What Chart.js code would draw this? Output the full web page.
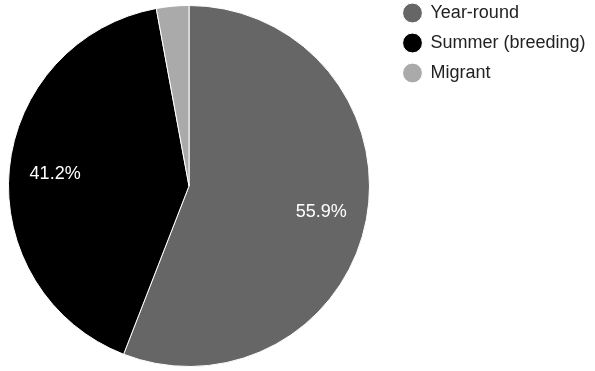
<!DOCTYPE html>
<html>
<head>
<meta charset="utf-8">
<script src="https://cdn.jsdelivr.net/npm/chart.js@4/dist/chart.umd.min.js"></script>
<style>
  html, body { margin: 0; padding: 0; background: #fff; }
  #wrap { width: 595px; height: 371px; }
</style>
</head>
<body>
<div id="wrap"><canvas id="pie" width="595" height="371"></canvas></div>
<script>
// Seasonal status share
const categories = ['Year-round', 'Summer (breeding)', 'Migrant'];
const shares = [55.9, 41.2, 2.9];
const sliceColors = ['#666666', '#000000', '#aaaaaa'];

const FONT = '"Liberation Sans", Arial, sans-serif';

// pie box on the left, legend pinned to the top right
const pieLayout = {
  id: 'pieLayout',
  afterLayout(chart) {
    const a = chart.chartArea;
    a.left = 8; a.right = 370; a.width = 362;
    a.top = 5; a.bottom = 367; a.height = 362;
    const lg = chart.legend;
    const w = lg.width, h = lg.height;
    lg.left = 391.5; lg.right = lg.left + w;
    lg.top = -8; lg.bottom = lg.top + h;
  }
};

// percentage text inside the bigger slices
const sliceLabels = {
  id: 'sliceLabels',
  afterDatasetsDraw(chart) {
    const ctx = chart.ctx;
    const meta = chart.getDatasetMeta(0);
    ctx.save();
    ctx.font = '18px ' + FONT;
    ctx.fillStyle = '#ffffff';
    ctx.textAlign = 'center';
    ctx.textBaseline = 'middle';
    meta.data.forEach((arc, i) => {
      const v = shares[i];
      if (v < 5) return;
      const p = arc.getProps(['x', 'y', 'startAngle', 'endAngle', 'outerRadius']);
      const mid = (p.startAngle + p.endAngle) / 2;
      const r = p.outerRadius * 0.745;
      ctx.fillText(v.toFixed(1) + '%', p.x + Math.cos(mid) * r, p.y + Math.sin(mid) * r + 1);
    });
    ctx.restore();
  }
};

new Chart(document.getElementById('pie').getContext('2d'), {
  type: 'pie',
  data: {
    labels: categories,
    datasets: [{
      data: shares,
      backgroundColor: sliceColors,
      borderColor: '#ffffff',
      borderWidth: 1
    }]
  },
  options: {
    responsive: false,
    animation: false,
    layout: { padding: { top: 5, bottom: 4, left: 8, right: 0 } },
    plugins: {
      tooltip: { enabled: false },
      legend: {
        position: 'right',
        align: 'start',
        labels: {
          usePointStyle: true,
          pointStyle: 'circle',
          boxWidth: 18,
          boxHeight: 14,
          padding: 12,
          color: '#222222',
          font: { family: FONT, size: 18 }
        }
      }
    }
  },
  plugins: [pieLayout, sliceLabels]
});
</script>
</body>
</html>
